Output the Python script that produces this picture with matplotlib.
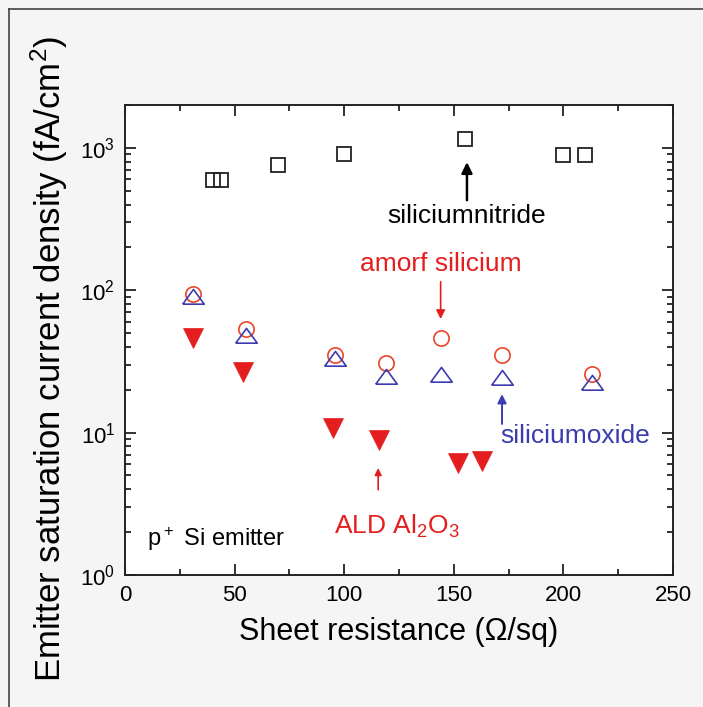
import numpy as np
import matplotlib
matplotlib.use("Agg")
import matplotlib.pyplot as plt
from matplotlib.lines import Line2D
from matplotlib.ticker import FixedLocator, LogLocator, FuncFormatter, NullFormatter

plt.rcParams['font.family'] = ['Liberation Sans Narrow', 'Liberation Sans', 'DejaVu Sans']

# data
nitride_x = [40, 44, 70, 100, 155, 200, 210]
nitride_y = [590, 590, 760, 905, 1150, 890, 890]

asi_x = [31, 55, 96, 119, 144, 172, 213]
asi_y = [94, 53, 35, 31, 46, 35, 26]

oxide_x = [31, 55, 96, 119, 144, 172, 213]
oxide_y = [89, 48, 33, 24.5, 25.5, 24, 22.4]

ald_x = [31, 54, 95, 116, 152, 163]
ald_y = [46.5, 26.8, 10.8, 8.9, 6.1, 6.3]

xticks = [0, 50, 100, 150, 200, 250]

red = '#e41e1e'
circ_red = '#e8452a'
blue = '#3c3cb0'

fig = plt.figure(figsize=(7.03, 7.07), dpi=100)
fig.patch.set_facecolor('#f5f5f5')
ax = fig.add_axes([125/703, 1 - 575/707, 548/703, 470/707])
ax.set_facecolor('white')

# frame lines (top and left edges of the picture)
fig.add_artist(Line2D([9/703, 9/703], [0, 1 - 9/707], transform=fig.transFigure, color='#444444', lw=1.2))
fig.add_artist(Line2D([9/703, 1], [1 - 9/707, 1 - 9/707], transform=fig.transFigure, color='#444444', lw=1.2))

ax.set_yscale('log')

# wider-than-tall open up triangle
tri_up = [(-1, -0.62), (1, -0.62), (0, 0.75), (-1, -0.62)]

ax.plot(nitride_x, nitride_y, ls='none', marker='s', ms=10.5, mfc='none', mec='#222222', mew=1.3)
ax.plot(asi_x, asi_y, ls='none', marker='o', ms=11, mfc='none', mec=circ_red, mew=1.2)
ax.plot(oxide_x, oxide_y, ls='none', marker=tri_up, ms=15.5, mfc='none', mec=blue, mew=1.2)
ax.plot(ald_x, ald_y, ls='none', marker='v', ms=14, mfc=red, mec=red, mew=0.5)

ax.set_xlim(0, 250)
ax.set_ylim(1, 2000)

ax.xaxis.set_major_locator(FixedLocator(xticks))
ax.xaxis.set_minor_locator(FixedLocator([25, 75, 125, 175, 225]))
ax.yaxis.set_major_locator(LogLocator(base=10, numticks=10))
ax.yaxis.set_minor_locator(LogLocator(base=10, subs=np.arange(2, 10), numticks=10))
ax.yaxis.set_major_formatter(FuncFormatter(lambda v, p: r'$\mathregular{10^{%d}}$' % int(round(np.log10(v)))))
ax.yaxis.set_minor_formatter(NullFormatter())

ax.tick_params(which='both', direction='in', top=True, right=True, width=1.3, color='#222222')
ax.tick_params(which='major', length=8, labelsize=16, pad=7)
ax.tick_params(which='minor', length=4.5)
for s in ax.spines.values():
    s.set_linewidth(1.4)
    s.set_color('#222222')

ax.set_xlabel('Sheet resistance (\u03a9/sq)', fontsize=22, labelpad=8)
ax.set_ylabel(r'Emitter saturation current density (fA/cm$\mathregular{^2}$)', fontsize=25)
ax.yaxis.set_label_coords(-0.100, 0.46)

# annotations
ax.annotate('', xy=(156, 830), xytext=(156, 410),
            arrowprops=dict(arrowstyle='-|>', color='black', lw=1.8, mutation_scale=16))
ax.text(156, 330, 'siliciumnitride', fontsize=19, color='black', ha='center', va='center')

ax.annotate('', xy=(144, 60), xytext=(144, 120),
            arrowprops=dict(arrowstyle='-|>', color=red, lw=1.2, mutation_scale=13))
ax.text(144, 152, 'amorf silicium', fontsize=19, color=red, ha='center', va='center')

ax.annotate('', xy=(172, 19.5), xytext=(172, 11),
            arrowprops=dict(arrowstyle='-|>', color=blue, lw=1.4, mutation_scale=13))
ax.text(171, 9.4, 'siliciumoxide', fontsize=19, color=blue, ha='left', va='center')

ax.annotate('', xy=(115.5, 5.9), xytext=(115.5, 3.8),
            arrowprops=dict(arrowstyle='-|>', color=red, lw=1.2, mutation_scale=10))
ax.text(124, 2.2, r'ALD Al$\mathregular{_2}$O$\mathregular{_3}$', fontsize=19, color=red, ha='center', va='center')

ax.text(10, 1.8, r'p$\mathregular{^+}$ Si emitter', fontsize=17, color='black', ha='left', va='center')

fig.savefig('out.png', dpi=100, facecolor=fig.get_facecolor())
